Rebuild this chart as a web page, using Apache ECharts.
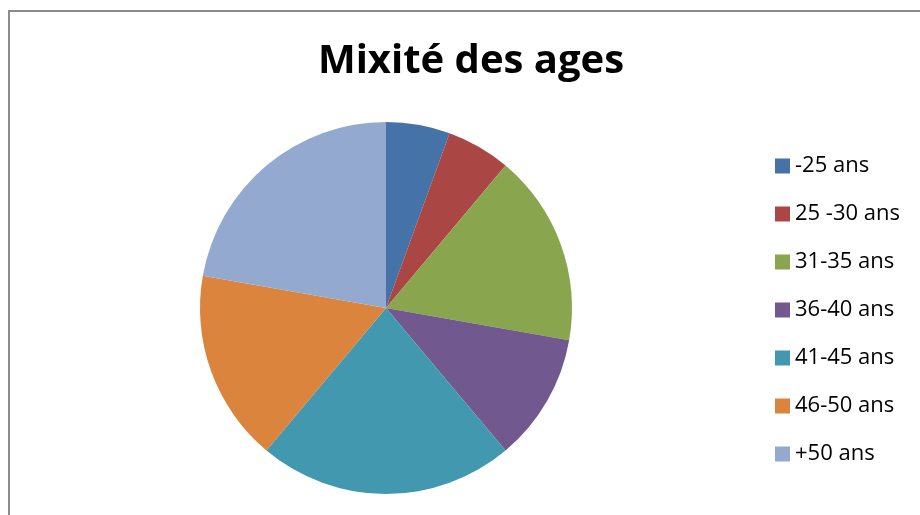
<!DOCTYPE html>
<html>
<head>
<meta charset="utf-8">
<script src="https://cdn.jsdelivr.net/npm/echarts@6/dist/echarts.min.js"></script>
<style>
    html, body { margin: 0; padding: 0; background: #fff; }
    #wrap { position: relative; width: 920px; height: 515px; overflow: hidden; }
    #frame { position: absolute; left: 8px; top: 10px; width: 1000px; height: 600px; border: 2px solid #8c8c8c; box-sizing: border-box; }
    #chart { position: absolute; left: 0; top: 0; width: 920px; height: 515px; }
</style>
</head>
<body>
<div id="wrap">
    <div id="frame"></div>
    <div id="chart"></div>
</div>
<script>
const categories = ['-25 ans', '25 -30 ans', '31-35 ans', '36-40 ans', '41-45 ans', '46-50 ans', '+50 ans'];
const counts = [1, 1, 3, 2, 4, 3, 4];
const colors = ['#4572A7', '#AA4643', '#89A54E', '#71588F', '#4198AF', '#DB843D', '#93A9CF'];

const chartDom = document.getElementById('chart');
const myChart = echarts.init(chartDom);

const option = {
    animation: false,
    color: colors,
    title: {
        text: 'Mixité des ages',
        left: 471,
        top: 42,
        padding: 0,
        textAlign: 'center',
        textStyle: {
            fontFamily: 'Open Sans',
            fontWeight: 'bold',
            fontSize: 40,
            color: '#000'
        }
    },
    legend: {
        orient: 'vertical',
        left: 775,
        top: 155,
        padding: 0,
        icon: 'rect',
        itemWidth: 15,
        itemHeight: 15,
        itemGap: 26,
        textStyle: {
            fontFamily: 'Open Sans',
            fontSize: 22,
            lineHeight: 22,
            color: '#000'
        },
        data: categories
    },
    series: [
        {
            type: 'pie',
            radius: 186,
            center: [386, 308],
            startAngle: 90,
            clockwise: true,
            label: { show: false },
            labelLine: { show: false },
            itemStyle: { borderWidth: 0 },
            data: categories.map((name, i) => ({ name: name, value: counts[i] }))
        }
    ]
};

myChart.setOption(option);
</script>
</body>
</html>
